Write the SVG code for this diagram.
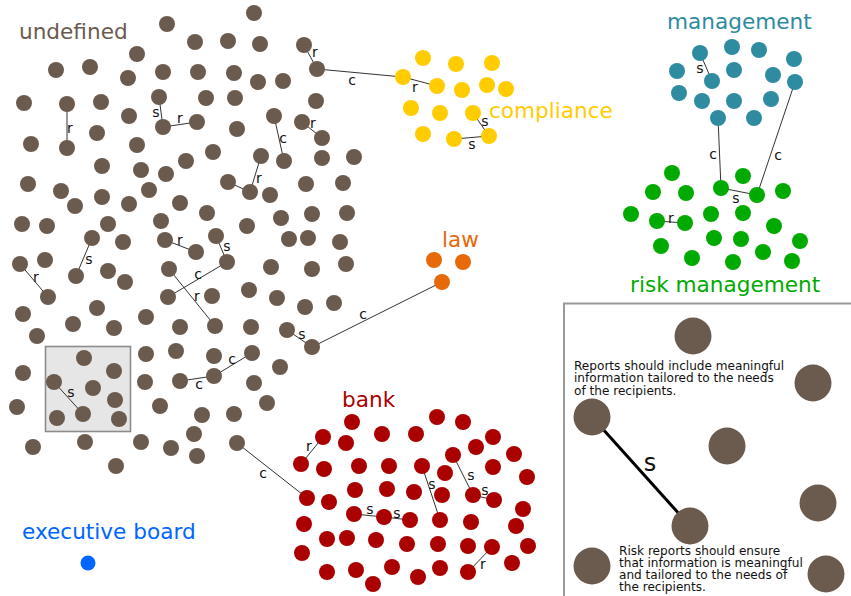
<svg xmlns="http://www.w3.org/2000/svg" width="851" height="596" viewBox="0 0 851 596">
  <style>
    text { font-family: "DejaVu Sans", Verdana, sans-serif; }
    .u { fill: #6b5b4e; }
    .y { fill: #ffcc00; }
    .t { fill: #2e8ba0; }
    .g { fill: #00aa00; }
    .o { fill: #e8690a; }
    .rd { fill: #aa0000; }
    .b { fill: #0066ff; }
    .edge { stroke: #333; stroke-width: 1; fill: none; }
    .el { font-size: 14px; fill: #111; text-anchor: middle; }
    .title { font-size: 21.6px; }
    .note { font-size: 12.1px; fill: #111; }
  </style>
  <rect width="851" height="596" fill="#fff"/>

  <!-- highlighted sample region -->
  <rect x="45.5" y="346.5" width="85" height="85" fill="#e6e6e6" stroke="#8c8c8c" stroke-width="1.6"/>

  <!-- relations between items -->
  <g id="connectors">
    <line class="edge" x1="304" y1="45" x2="317" y2="69"/>
    <line class="edge" x1="317" y1="69" x2="403" y2="77"/>
    <line class="edge" x1="403" y1="77" x2="437" y2="86"/>
    <line class="edge" x1="473" y1="113" x2="489" y2="136"/>
    <line class="edge" x1="454" y1="139" x2="489" y2="136"/>
    <line class="edge" x1="700" y1="53" x2="712" y2="81"/>
    <line class="edge" x1="718" y1="118" x2="721" y2="188"/>
    <line class="edge" x1="795" y1="82" x2="757" y2="195"/>
    <line class="edge" x1="721" y1="188" x2="757" y2="195"/>
    <line class="edge" x1="657" y1="221" x2="685" y2="223"/>
    <line class="edge" x1="67" y1="104" x2="67" y2="148"/>
    <line class="edge" x1="159" y1="97" x2="163" y2="127"/>
    <line class="edge" x1="163" y1="127" x2="197" y2="122"/>
    <line class="edge" x1="274" y1="116" x2="284" y2="161"/>
    <line class="edge" x1="302" y1="122" x2="322" y2="138"/>
    <line class="edge" x1="261" y1="156" x2="250" y2="192"/>
    <line class="edge" x1="228" y1="182" x2="250" y2="192"/>
    <line class="edge" x1="92" y1="238" x2="76" y2="276"/>
    <line class="edge" x1="20" y1="264" x2="48" y2="297"/>
    <line class="edge" x1="165" y1="240" x2="196" y2="252"/>
    <line class="edge" x1="216" y1="236" x2="227" y2="262"/>
    <line class="edge" x1="168" y1="297" x2="227" y2="262"/>
    <line class="edge" x1="169" y1="269" x2="215" y2="326"/>
    <line class="edge" x1="287" y1="330" x2="312" y2="347"/>
    <line class="edge" x1="312" y1="347" x2="442" y2="282"/>
    <line class="edge" x1="252" y1="353" x2="214" y2="376"/>
    <line class="edge" x1="214" y1="376" x2="180" y2="381"/>
    <line class="edge" x1="54" y1="382" x2="83" y2="414"/>
    <line class="edge" x1="237" y1="443" x2="307" y2="498"/>
    <line class="edge" x1="323" y1="437" x2="301" y2="464"/>
    <line class="edge" x1="354" y1="514" x2="384" y2="517"/>
    <line class="edge" x1="384" y1="517" x2="410" y2="520"/>
    <line class="edge" x1="422" y1="466" x2="440" y2="520"/>
    <line class="edge" x1="453" y1="455" x2="473" y2="495"/>
    <line class="edge" x1="473" y1="495" x2="494" y2="500"/>
    <line class="edge" x1="492" y1="547" x2="468" y2="572"/>

    <text class="el" x="315" y="57">r</text>
    <text class="el" x="352" y="85">c</text>
    <text class="el" x="415" y="92">r</text>
    <text class="el" x="485" y="126">s</text>
    <text class="el" x="472" y="149">s</text>
    <text class="el" x="700" y="73">s</text>
    <text class="el" x="713" y="159">c</text>
    <text class="el" x="778" y="160">c</text>
    <text class="el" x="736" y="203">s</text>
    <text class="el" x="671" y="223">r</text>
    <text class="el" x="70" y="133">r</text>
    <text class="el" x="156" y="117">s</text>
    <text class="el" x="180" y="123">r</text>
    <text class="el" x="283" y="143">c</text>
    <text class="el" x="313" y="128">r</text>
    <text class="el" x="259" y="183">r</text>
    <text class="el" x="89" y="264">s</text>
    <text class="el" x="36" y="282">r</text>
    <text class="el" x="180" y="245">r</text>
    <text class="el" x="227" y="251">s</text>
    <text class="el" x="198" y="279">c</text>
    <text class="el" x="197" y="301">r</text>
    <text class="el" x="302" y="339">s</text>
    <text class="el" x="363" y="319">c</text>
    <text class="el" x="232" y="364">c</text>
    <text class="el" x="199" y="389">c</text>
    <text class="el" x="71" y="397">s</text>
    <text class="el" x="263" y="478">c</text>
    <text class="el" x="309" y="451">r</text>
    <text class="el" x="370" y="514">s</text>
    <text class="el" x="397" y="518">s</text>
    <text class="el" x="432" y="489">s</text>
    <text class="el" x="471" y="480">s</text>
    <text class="el" x="485" y="495">s</text>
    <text class="el" x="483" y="569">r</text>
  </g>

  <!-- unclassified items -->
  <g id="undefined">
    <text class="title" x="19" y="39" fill="#6b5b4e">undefined</text>
    <g class="u">
      <circle cx="254" cy="13" r="8"/><circle cx="167" cy="24" r="8"/><circle cx="195" cy="42" r="8"/>
      <circle cx="228" cy="41" r="8"/><circle cx="260" cy="44" r="8"/><circle cx="304" cy="45" r="8"/>
      <circle cx="137" cy="54" r="8"/><circle cx="56" cy="70" r="8"/><circle cx="90" cy="67" r="8"/>
      <circle cx="128" cy="78" r="8"/><circle cx="163" cy="72" r="8"/><circle cx="198" cy="72" r="8"/>
      <circle cx="234" cy="73" r="8"/><circle cx="258" cy="82" r="8"/><circle cx="283" cy="81" r="8"/>
      <circle cx="317" cy="69" r="8"/><circle cx="24" cy="103" r="8"/><circle cx="67" cy="104" r="8"/>
      <circle cx="101" cy="102" r="8"/><circle cx="129" cy="116" r="8"/><circle cx="159" cy="97" r="8"/>
      <circle cx="206" cy="98" r="8"/><circle cx="235" cy="98" r="8"/><circle cx="316" cy="101" r="8"/>
      <circle cx="163" cy="127" r="8"/><circle cx="197" cy="122" r="8"/><circle cx="237" cy="129" r="8"/>
      <circle cx="274" cy="116" r="8"/><circle cx="302" cy="122" r="8"/><circle cx="322" cy="138" r="8"/>
      <circle cx="97" cy="133" r="8"/><circle cx="31" cy="144" r="8"/><circle cx="67" cy="148" r="8"/>
      <circle cx="137" cy="145" r="8"/><circle cx="213" cy="152" r="8"/><circle cx="261" cy="156" r="8"/>
      <circle cx="284" cy="161" r="8"/><circle cx="322" cy="158" r="8"/><circle cx="354" cy="157" r="8"/>
      <circle cx="102" cy="166" r="8"/><circle cx="141" cy="170" r="8"/><circle cx="166" cy="174" r="8"/>
      <circle cx="186" cy="161" r="8"/><circle cx="28" cy="184" r="8"/><circle cx="61" cy="191" r="8"/>
      <circle cx="75" cy="206" r="8"/><circle cx="102" cy="197" r="8"/><circle cx="129" cy="204" r="8"/>
      <circle cx="149" cy="190" r="8"/><circle cx="180" cy="203" r="8"/><circle cx="228" cy="182" r="8"/>
      <circle cx="250" cy="192" r="8"/><circle cx="270" cy="195" r="8"/><circle cx="306" cy="184" r="8"/>
      <circle cx="343" cy="183" r="8"/><circle cx="22" cy="224" r="8"/><circle cx="47" cy="226" r="8"/>
      <circle cx="108" cy="224" r="8"/><circle cx="161" cy="221" r="8"/><circle cx="207" cy="213" r="8"/>
      <circle cx="247" cy="226" r="8"/><circle cx="281" cy="218" r="8"/><circle cx="312" cy="214" r="8"/>
      <circle cx="347" cy="213" r="8"/><circle cx="92" cy="238" r="8"/><circle cx="123" cy="242" r="8"/>
      <circle cx="165" cy="240" r="8"/><circle cx="196" cy="252" r="8"/><circle cx="216" cy="236" r="8"/>
      <circle cx="289" cy="239" r="8"/><circle cx="308" cy="238" r="8"/><circle cx="340" cy="242" r="8"/>
      <circle cx="20" cy="264" r="8"/><circle cx="45" cy="260" r="8"/><circle cx="76" cy="276" r="8"/>
      <circle cx="108" cy="271" r="8"/><circle cx="125" cy="282" r="8"/><circle cx="169" cy="269" r="8"/>
      <circle cx="227" cy="262" r="8"/><circle cx="271" cy="267" r="8"/><circle cx="312" cy="269" r="8"/>
      <circle cx="346" cy="264" r="8"/><circle cx="48" cy="297" r="8"/><circle cx="97" cy="308" r="8"/>
      <circle cx="168" cy="297" r="8"/><circle cx="212" cy="296" r="8"/><circle cx="249" cy="290" r="8"/>
      <circle cx="277" cy="298" r="8"/><circle cx="305" cy="307" r="8"/><circle cx="334" cy="303" r="8"/>
      <circle cx="23" cy="314" r="8"/><circle cx="73" cy="324" r="8"/><circle cx="114" cy="328" r="8"/>
      <circle cx="37" cy="336" r="8"/><circle cx="146" cy="317" r="8"/><circle cx="180" cy="327" r="8"/>
      <circle cx="215" cy="326" r="8"/><circle cx="251" cy="327" r="8"/><circle cx="287" cy="330" r="8"/>
      <circle cx="312" cy="347" r="8"/><circle cx="84" cy="358" r="8"/><circle cx="146" cy="354" r="8"/>
      <circle cx="176" cy="351" r="8"/><circle cx="214" cy="356" r="8"/><circle cx="252" cy="353" r="8"/>
      <circle cx="280" cy="367" r="8"/><circle cx="23" cy="373" r="8"/><circle cx="114" cy="371" r="8"/>
      <circle cx="54" cy="382" r="8"/><circle cx="93" cy="388" r="8"/><circle cx="145" cy="382" r="8"/>
      <circle cx="180" cy="381" r="8"/><circle cx="214" cy="376" r="8"/><circle cx="254" cy="383" r="8"/>
      <circle cx="115" cy="400" r="8"/><circle cx="17" cy="407" r="8"/><circle cx="57" cy="418" r="8"/>
      <circle cx="83" cy="414" r="8"/><circle cx="119" cy="419" r="8"/><circle cx="160" cy="406" r="8"/>
      <circle cx="202" cy="415" r="8"/><circle cx="234" cy="414" r="8"/><circle cx="267" cy="403" r="8"/>
      <circle cx="33" cy="447" r="8"/><circle cx="85" cy="442" r="8"/><circle cx="141" cy="442" r="8"/>
      <circle cx="171" cy="448" r="8"/><circle cx="194" cy="434" r="8"/><circle cx="197" cy="456" r="8"/>
      <circle cx="237" cy="443" r="8"/><circle cx="116" cy="466" r="8"/>
    </g>
  </g>

  <g id="compliance">
    <text class="title" x="489" y="118" fill="#ffcc00">compliance</text>
    <g class="y">
      <circle cx="423" cy="58" r="8"/><circle cx="456" cy="64" r="8"/><circle cx="492" cy="63" r="8"/>
      <circle cx="403" cy="77" r="8"/><circle cx="437" cy="86" r="8"/><circle cx="462" cy="90" r="8"/>
      <circle cx="487" cy="85" r="8"/><circle cx="506" cy="89" r="8"/><circle cx="411" cy="108" r="8"/>
      <circle cx="440" cy="113" r="8"/><circle cx="473" cy="113" r="8"/><circle cx="423" cy="134" r="8"/>
      <circle cx="454" cy="139" r="8"/><circle cx="489" cy="136" r="8"/>
    </g>
  </g>

  <g id="management">
    <text class="title" x="667" y="29" fill="#2e8ba0">management</text>
    <g class="t">
      <circle cx="700" cy="53" r="8"/><circle cx="732" cy="47" r="8"/><circle cx="759" cy="50" r="8"/>
      <circle cx="794" cy="59" r="8"/><circle cx="677" cy="71" r="8"/><circle cx="712" cy="81" r="8"/>
      <circle cx="734" cy="70" r="8"/><circle cx="773" cy="75" r="8"/><circle cx="795" cy="82" r="8"/>
      <circle cx="679" cy="93" r="8"/><circle cx="702" cy="101" r="8"/><circle cx="734" cy="101" r="8"/>
      <circle cx="771" cy="99" r="8"/><circle cx="718" cy="118" r="8"/><circle cx="754" cy="118" r="8"/>
    </g>
  </g>

  <g id="risk-management">
    <text class="title" x="630" y="292" fill="#00aa00">risk management</text>
    <g class="g">
      <circle cx="672" cy="173" r="8"/><circle cx="743" cy="176" r="8"/><circle cx="653" cy="192" r="8"/>
      <circle cx="686" cy="193" r="8"/><circle cx="721" cy="188" r="8"/><circle cx="757" cy="195" r="8"/>
      <circle cx="783" cy="191" r="8"/><circle cx="631" cy="214" r="8"/><circle cx="657" cy="221" r="8"/>
      <circle cx="685" cy="223" r="8"/><circle cx="711" cy="214" r="8"/><circle cx="743" cy="213" r="8"/>
      <circle cx="774" cy="226" r="8"/><circle cx="661" cy="246" r="8"/><circle cx="714" cy="238" r="8"/>
      <circle cx="741" cy="239" r="8"/><circle cx="800" cy="241" r="8"/><circle cx="692" cy="258" r="8"/>
      <circle cx="733" cy="262" r="8"/><circle cx="763" cy="252" r="8"/><circle cx="792" cy="261" r="8"/>
    </g>
  </g>

  <g id="law">
    <text class="title" x="442" y="247" fill="#e8690a">law</text>
    <g class="o">
      <circle cx="434" cy="260" r="8"/><circle cx="463" cy="262" r="8"/><circle cx="442" cy="282" r="8"/>
    </g>
  </g>

  <g id="bank">
    <text class="title" x="342" y="407" fill="#aa0000">bank</text>
    <g class="rd">
      <circle cx="352" cy="422" r="8"/><circle cx="437" cy="417" r="8"/><circle cx="463" cy="422" r="8"/>
      <circle cx="323" cy="437" r="8"/><circle cx="346" cy="443" r="8"/><circle cx="382" cy="434" r="8"/>
      <circle cx="416" cy="434" r="8"/><circle cx="493" cy="437" r="8"/><circle cx="476" cy="447" r="8"/>
      <circle cx="453" cy="455" r="8"/><circle cx="514" cy="454" r="8"/><circle cx="301" cy="464" r="8"/>
      <circle cx="324" cy="469" r="8"/><circle cx="359" cy="466" r="8"/><circle cx="389" cy="466" r="8"/>
      <circle cx="422" cy="466" r="8"/><circle cx="445" cy="473" r="8"/><circle cx="493" cy="467" r="8"/>
      <circle cx="527" cy="477" r="8"/><circle cx="307" cy="498" r="8"/><circle cx="329" cy="502" r="8"/>
      <circle cx="355" cy="490" r="8"/><circle cx="387" cy="489" r="8"/><circle cx="414" cy="492" r="8"/>
      <circle cx="442" cy="495" r="8"/><circle cx="473" cy="495" r="8"/><circle cx="494" cy="500" r="8"/>
      <circle cx="523" cy="509" r="8"/><circle cx="354" cy="514" r="8"/><circle cx="384" cy="517" r="8"/>
      <circle cx="410" cy="520" r="8"/><circle cx="440" cy="520" r="8"/><circle cx="471" cy="522" r="8"/>
      <circle cx="516" cy="526" r="8"/><circle cx="304" cy="524" r="8"/><circle cx="327" cy="539" r="8"/>
      <circle cx="347" cy="538" r="8"/><circle cx="376" cy="540" r="8"/><circle cx="407" cy="544" r="8"/>
      <circle cx="438" cy="544" r="8"/><circle cx="468" cy="546" r="8"/><circle cx="492" cy="547" r="8"/>
      <circle cx="528" cy="546" r="8"/><circle cx="302" cy="553" r="8"/><circle cx="327" cy="572" r="8"/>
      <circle cx="356" cy="570" r="8"/><circle cx="392" cy="567" r="8"/><circle cx="418" cy="577" r="8"/>
      <circle cx="440" cy="568" r="8"/><circle cx="468" cy="572" r="8"/><circle cx="512" cy="563" r="8"/>
      <circle cx="373" cy="584" r="8"/>
    </g>
  </g>

  <g id="executive-board">
    <text class="title" x="22" y="539" fill="#0066ff">executive board</text>
    <circle class="b" cx="88" cy="563" r="7.5"/>
  </g>

  <!-- enlarged detail panel -->
  <g id="detail">
    <rect x="564" y="303.5" width="300" height="300" fill="#fff" stroke="#999" stroke-width="2"/>
    <line x1="592" y1="417" x2="690" y2="526" stroke="#000" stroke-width="3"/>
    <text x="650" y="471" font-size="24" fill="#111" text-anchor="middle">s</text>
    <g class="u">
      <circle cx="693" cy="336" r="18.5"/><circle cx="813" cy="383" r="18.5"/>
      <circle cx="592" cy="417" r="18.5"/><circle cx="727" cy="446" r="18.5"/>
      <circle cx="818" cy="503" r="18.5"/><circle cx="690" cy="526" r="18.5"/>
      <circle cx="592" cy="566" r="18.5"/><circle cx="826" cy="574" r="18.5"/>
    </g>
    <text class="note" x="574" y="369.5">Reports should include meaningful</text>
    <text class="note" x="574" y="382">information tailored to the needs</text>
    <text class="note" x="574" y="394.5">of the recipients.</text>
    <text class="note" x="619" y="555">Risk reports should ensure</text>
    <text class="note" x="619" y="567">that information is meaningful</text>
    <text class="note" x="619" y="579">and tailored to the needs of</text>
    <text class="note" x="619" y="591">the recipients.</text>
  </g>
</svg>
